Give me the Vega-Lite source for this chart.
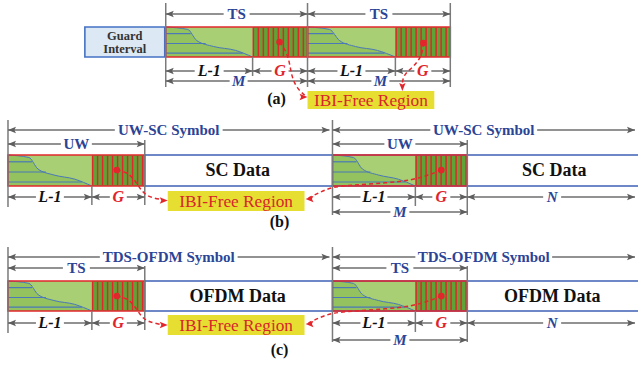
{
  "$schema": "https://vega.github.io/schema/vega-lite/v6.json",
  "width": 639,
  "height": 366,
  "padding": 0,
  "autosize": {"type": "fit", "contains": "padding"},
  "background": "white",
  "config": {"view": {"stroke": null}},
  "datasets": {
    "boxes": [
      {"x": 85, "x2": 165, "y": 27, "y2": 57, "k": "guard"},
      {"x": 166, "x2": 253, "y": 27, "y2": 57, "k": "light"},
      {"x": 253, "x2": 308, "y": 27, "y2": 57, "k": "hatch"},
      {"x": 308, "x2": 396, "y": 27, "y2": 57, "k": "light"},
      {"x": 396, "x2": 451, "y": 27, "y2": 57, "k": "hatch"},
      {"x": 8, "x2": 92, "y": 155, "y2": 186, "k": "light"},
      {"x": 92, "x2": 145, "y": 155, "y2": 186, "k": "hatch"},
      {"x": 333, "x2": 416, "y": 155, "y2": 186, "k": "light"},
      {"x": 416, "x2": 468, "y": 155, "y2": 186, "k": "hatch"},
      {"x": 8, "x2": 92, "y": 281, "y2": 311, "k": "light"},
      {"x": 92, "x2": 145, "y": 281, "y2": 311, "k": "hatch"},
      {"x": 333, "x2": 416, "y": 281, "y2": 311, "k": "light"},
      {"x": 416, "x2": 468, "y": 281, "y2": 311, "k": "hatch"},
      {"x": 308, "x2": 435, "y": 91, "y2": 109, "k": "ibi"},
      {"x": 168, "x2": 305, "y": 191, "y2": 211, "k": "ibi"},
      {"x": 168, "x2": 305, "y": 315, "y2": 335, "k": "ibi"}
    ],
    "curves": [
      {"b": "a1", "x": 166, "y": 27, "yb": 57}, {"b": "a1", "x": 188, "y": 29.4, "yb": 57}, {"b": "a1", "x": 197, "y": 40.5, "yb": 57}, {"b": "a1", "x": 214, "y": 46.5, "yb": 57}, {"b": "a1", "x": 236, "y": 50.4, "yb": 57}, {"b": "a1", "x": 253, "y": 57, "yb": 57},
      {"b": "a2", "x": 308, "y": 27, "yb": 57}, {"b": "a2", "x": 330, "y": 29.4, "yb": 57}, {"b": "a2", "x": 340, "y": 40.5, "yb": 57}, {"b": "a2", "x": 356, "y": 46.5, "yb": 57}, {"b": "a2", "x": 378, "y": 50.4, "yb": 57}, {"b": "a2", "x": 396, "y": 57, "yb": 57},
      {"b": "b1", "x": 8, "y": 155, "yb": 186}, {"b": "b1", "x": 29, "y": 157.5, "yb": 186}, {"b": "b1", "x": 38, "y": 169, "yb": 186}, {"b": "b1", "x": 54, "y": 175, "yb": 186}, {"b": "b1", "x": 75, "y": 179.2, "yb": 186}, {"b": "b1", "x": 92, "y": 186, "yb": 186},
      {"b": "b2", "x": 333, "y": 155, "yb": 186}, {"b": "b2", "x": 354, "y": 157.5, "yb": 186}, {"b": "b2", "x": 363, "y": 169, "yb": 186}, {"b": "b2", "x": 379, "y": 175, "yb": 186}, {"b": "b2", "x": 399, "y": 179.2, "yb": 186}, {"b": "b2", "x": 416, "y": 186, "yb": 186},
      {"b": "c1", "x": 8, "y": 281, "yb": 311}, {"b": "c1", "x": 29, "y": 283.4, "yb": 311}, {"b": "c1", "x": 38, "y": 294.5, "yb": 311}, {"b": "c1", "x": 54, "y": 300.5, "yb": 311}, {"b": "c1", "x": 75, "y": 304.4, "yb": 311}, {"b": "c1", "x": 92, "y": 311, "yb": 311},
      {"b": "c2", "x": 333, "y": 281, "yb": 311}, {"b": "c2", "x": 354, "y": 283.4, "yb": 311}, {"b": "c2", "x": 363, "y": 294.5, "yb": 311}, {"b": "c2", "x": 379, "y": 300.5, "yb": 311}, {"b": "c2", "x": 399, "y": 304.4, "yb": 311}, {"b": "c2", "x": 416, "y": 311, "yb": 311}
    ],
    "hlines": [
      {"x": 166, "x2": 191, "y": 33.6}, {"x": 166, "x2": 206, "y": 43.5}, {"x": 166, "x2": 243, "y": 53.1},
      {"x": 308, "x2": 334, "y": 33.6}, {"x": 308, "x2": 348, "y": 43.5}, {"x": 308, "x2": 385, "y": 53.1},
      {"x": 8, "x2": 32, "y": 161.8}, {"x": 8, "x2": 46, "y": 172}, {"x": 8, "x2": 82, "y": 182},
      {"x": 333, "x2": 357, "y": 161.8}, {"x": 333, "x2": 371, "y": 172}, {"x": 333, "x2": 406, "y": 182},
      {"x": 8, "x2": 32, "y": 287.6}, {"x": 8, "x2": 46, "y": 297.5}, {"x": 8, "x2": 82, "y": 307.1},
      {"x": 333, "x2": 357, "y": 287.6}, {"x": 333, "x2": 371, "y": 297.5}, {"x": 333, "x2": 406, "y": 307.1}
    ],
    "stripes": [
      {"x": 253, "x2": 308, "y": 42}, {"x": 396, "x2": 451, "y": 42},
      {"x": 92, "x2": 145, "y": 170.5}, {"x": 416, "x2": 468, "y": 170.5},
      {"x": 92, "x2": 145, "y": 296}, {"x": 416, "x2": 468, "y": 296}
    ],
    "datalines": [
      {"x": 145, "x2": 639, "y": 155}, {"x": 145, "x2": 639, "y": 186},
      {"x": 145, "x2": 639, "y": 281}, {"x": 145, "x2": 639, "y": 311}
    ],
    "frames": [
      {"x": 85, "x2": 165, "y": 27, "y2": 57, "k": "blue"},
      {"x": 166, "x2": 308, "y": 27, "y2": 57, "k": "red"},
      {"x": 308, "x2": 451, "y": 27, "y2": 57, "k": "red"},
      {"x": 8, "x2": 145, "y": 155, "y2": 186, "k": "red"},
      {"x": 333, "x2": 468, "y": 155, "y2": 186, "k": "red"},
      {"x": 8, "x2": 145, "y": 281, "y2": 311, "k": "red"},
      {"x": 333, "x2": 468, "y": 281, "y2": 311, "k": "red"}
    ],
    "ticks": [
      {"x": 166, "y": 3, "y2": 87}, {"x": 308, "y": 3, "y2": 87}, {"x": 451, "y": 3, "y2": 87},
      {"x": 253, "y": 57, "y2": 76}, {"x": 396, "y": 57, "y2": 76},
      {"x": 8, "y": 120, "y2": 207}, {"x": 145, "y": 140, "y2": 205}, {"x": 92, "y": 186, "y2": 205},
      {"x": 333, "y": 120, "y2": 215}, {"x": 416, "y": 186, "y2": 206}, {"x": 468, "y": 140, "y2": 215},
      {"x": 8, "y": 247, "y2": 333}, {"x": 145, "y": 266, "y2": 330}, {"x": 92, "y": 311, "y2": 330},
      {"x": 333, "y": 247, "y2": 342}, {"x": 416, "y": 311, "y2": 332}, {"x": 468, "y": 266, "y2": 342}
    ],
    "segs": [
      {"x": 166, "x2": 224, "y": 14}, {"x": 250, "x2": 308, "y": 14},
      {"x": 308, "x2": 366, "y": 14}, {"x": 393, "x2": 451, "y": 14},
      {"x": 166, "x2": 195, "y": 71}, {"x": 224, "x2": 253, "y": 71},
      {"x": 253, "x2": 272, "y": 71}, {"x": 289, "x2": 308, "y": 71},
      {"x": 308, "x2": 338, "y": 71}, {"x": 366, "x2": 396, "y": 71},
      {"x": 396, "x2": 415, "y": 71}, {"x": 432, "x2": 451, "y": 71},
      {"x": 166, "x2": 230, "y": 81}, {"x": 248, "x2": 308, "y": 81},
      {"x": 308, "x2": 372, "y": 81}, {"x": 390, "x2": 451, "y": 81},
      {"x": 8, "x2": 115, "y": 130}, {"x": 223, "x2": 330, "y": 130},
      {"x": 333, "x2": 431, "y": 130}, {"x": 538, "x2": 636, "y": 130},
      {"x": 8, "x2": 61, "y": 144}, {"x": 92, "x2": 145, "y": 144},
      {"x": 333, "x2": 385, "y": 144}, {"x": 416, "x2": 468, "y": 144},
      {"x": 8, "x2": 36, "y": 197}, {"x": 64, "x2": 92, "y": 197},
      {"x": 92, "x2": 110, "y": 197}, {"x": 127, "x2": 145, "y": 197},
      {"x": 333, "x2": 361, "y": 197}, {"x": 388, "x2": 416, "y": 197},
      {"x": 416, "x2": 433, "y": 197}, {"x": 451, "x2": 468, "y": 197},
      {"x": 468, "x2": 544, "y": 197}, {"x": 562, "x2": 636, "y": 197},
      {"x": 333, "x2": 391, "y": 212}, {"x": 410, "x2": 468, "y": 212},
      {"x": 8, "x2": 100, "y": 257}, {"x": 238, "x2": 330, "y": 257},
      {"x": 333, "x2": 416, "y": 257}, {"x": 553, "x2": 636, "y": 257},
      {"x": 8, "x2": 63, "y": 268}, {"x": 90, "x2": 145, "y": 268},
      {"x": 333, "x2": 387, "y": 268}, {"x": 414, "x2": 468, "y": 268},
      {"x": 8, "x2": 36, "y": 323}, {"x": 64, "x2": 92, "y": 323},
      {"x": 92, "x2": 110, "y": 323}, {"x": 127, "x2": 145, "y": 323},
      {"x": 333, "x2": 361, "y": 323}, {"x": 388, "x2": 416, "y": 323},
      {"x": 416, "x2": 433, "y": 323}, {"x": 451, "x2": 468, "y": 323},
      {"x": 468, "x2": 544, "y": 323}, {"x": 562, "x2": 636, "y": 323},
      {"x": 333, "x2": 391, "y": 340}, {"x": 410, "x2": 468, "y": 340}
    ],
    "arrows": [
      {"x": 166, "x2": 308, "xm": 237, "y": 14, "t": "TS", "s": "b"},
      {"x": 308, "x2": 451, "xm": 379.5, "y": 14, "t": "TS", "s": "b"},
      {"x": 166, "x2": 253, "xm": 209.5, "y": 71, "t": "L-1", "s": "l"},
      {"x": 253, "x2": 308, "xm": 280.5, "y": 71, "t": "G", "s": "g"},
      {"x": 308, "x2": 396, "xm": 352, "y": 71, "t": "L-1", "s": "l"},
      {"x": 396, "x2": 451, "xm": 423.5, "y": 71, "t": "G", "s": "g"},
      {"x": 166, "x2": 308, "xm": 239, "y": 81, "t": "M", "s": "m"},
      {"x": 308, "x2": 451, "xm": 381, "y": 81, "t": "M", "s": "m"},
      {"x": 8, "x2": 330, "xm": 169, "y": 130, "t": "UW-SC Symbol", "s": "b"},
      {"x": 333, "x2": 636, "xm": 484.5, "y": 130, "t": "UW-SC Symbol", "s": "b"},
      {"x": 8, "x2": 145, "xm": 76.5, "y": 144, "t": "UW", "s": "b"},
      {"x": 333, "x2": 468, "xm": 400.5, "y": 144, "t": "UW", "s": "b"},
      {"x": 8, "x2": 92, "xm": 50, "y": 197, "t": "L-1", "s": "l"},
      {"x": 92, "x2": 145, "xm": 118.5, "y": 197, "t": "G", "s": "g"},
      {"x": 333, "x2": 416, "xm": 374.5, "y": 197, "t": "L-1", "s": "l"},
      {"x": 416, "x2": 468, "xm": 442, "y": 197, "t": "G", "s": "g"},
      {"x": 468, "x2": 636, "xm": 553, "y": 197, "t": "N", "s": "m"},
      {"x": 333, "x2": 468, "xm": 400.5, "y": 212, "t": "M", "s": "m"},
      {"x": 8, "x2": 330, "xm": 169, "y": 257, "t": "TDS-OFDM Symbol", "s": "b"},
      {"x": 333, "x2": 636, "xm": 484.5, "y": 257, "t": "TDS-OFDM Symbol", "s": "b"},
      {"x": 8, "x2": 145, "xm": 76.5, "y": 268, "t": "TS", "s": "b"},
      {"x": 333, "x2": 468, "xm": 400.5, "y": 268, "t": "TS", "s": "b"},
      {"x": 8, "x2": 92, "xm": 50, "y": 323, "t": "L-1", "s": "l"},
      {"x": 92, "x2": 145, "xm": 118.5, "y": 323, "t": "G", "s": "g"},
      {"x": 333, "x2": 416, "xm": 374.5, "y": 323, "t": "L-1", "s": "l"},
      {"x": 416, "x2": 468, "xm": 442, "y": 323, "t": "G", "s": "g"},
      {"x": 468, "x2": 636, "xm": 553, "y": 323, "t": "N", "s": "m"},
      {"x": 333, "x2": 468, "xm": 400.5, "y": 340, "t": "M", "s": "m"}
    ],
    "redpaths": [
      {"p": "a1", "i": 0, "x": 280, "y": 42}, {"p": "a1", "i": 1, "x": 286, "y": 50}, {"p": "a1", "i": 2, "x": 290, "y": 62}, {"p": "a1", "i": 3, "x": 292, "y": 76}, {"p": "a1", "i": 4, "x": 297, "y": 88}, {"p": "a1", "i": 5, "x": 306, "y": 96},
      {"p": "a2", "i": 0, "x": 424, "y": 43}, {"p": "a2", "i": 1, "x": 423, "y": 55}, {"p": "a2", "i": 2, "x": 415, "y": 66}, {"p": "a2", "i": 3, "x": 406, "y": 73}, {"p": "a2", "i": 4, "x": 403, "y": 80}, {"p": "a2", "i": 5, "x": 403, "y": 88},
      {"p": "b1", "i": 0, "x": 117, "y": 170}, {"p": "b1", "i": 1, "x": 127, "y": 172}, {"p": "b1", "i": 2, "x": 135, "y": 180}, {"p": "b1", "i": 3, "x": 141, "y": 190}, {"p": "b1", "i": 4, "x": 148, "y": 197}, {"p": "b1", "i": 5, "x": 164, "y": 200},
      {"p": "b2", "i": 0, "x": 442, "y": 170}, {"p": "b2", "i": 1, "x": 430, "y": 175}, {"p": "b2", "i": 2, "x": 413, "y": 180}, {"p": "b2", "i": 3, "x": 387, "y": 183}, {"p": "b2", "i": 4, "x": 353, "y": 185}, {"p": "b2", "i": 5, "x": 332, "y": 187}, {"p": "b2", "i": 6, "x": 319, "y": 193}, {"p": "b2", "i": 7, "x": 309, "y": 198},
      {"p": "c1", "i": 0, "x": 117, "y": 296}, {"p": "c1", "i": 1, "x": 127, "y": 298}, {"p": "c1", "i": 2, "x": 135, "y": 306}, {"p": "c1", "i": 3, "x": 141, "y": 316}, {"p": "c1", "i": 4, "x": 148, "y": 322}, {"p": "c1", "i": 5, "x": 164, "y": 325},
      {"p": "c2", "i": 0, "x": 442, "y": 296}, {"p": "c2", "i": 1, "x": 430, "y": 301}, {"p": "c2", "i": 2, "x": 413, "y": 306}, {"p": "c2", "i": 3, "x": 387, "y": 309}, {"p": "c2", "i": 4, "x": 353, "y": 311}, {"p": "c2", "i": 5, "x": 332, "y": 313}, {"p": "c2", "i": 6, "x": 319, "y": 318}, {"p": "c2", "i": 7, "x": 309, "y": 323}
    ],
    "dots": [
      {"x": 280, "y": 42}, {"x": 424, "y": 43}, {"x": 117, "y": 170}, {"x": 442, "y": 170}, {"x": 117, "y": 296}, {"x": 442, "y": 296}
    ],
    "redheads": [
      {"x": 308, "y": 97, "d": "R"}, {"x": 403, "y": 91, "d": "D"},
      {"x": 168, "y": 200.5, "d": "R"}, {"x": 306, "y": 199, "d": "L"},
      {"x": 168, "y": 325, "d": "R"}, {"x": 306, "y": 324, "d": "L"}
    ],
    "texts": [
      {"x": 125, "y": 35.5, "t": "Guard", "k": "gi"},
      {"x": 125, "y": 48.5, "t": "Interval", "k": "gi"},
      {"x": 277, "y": 99, "t": "(a)", "k": "cap"},
      {"x": 280, "y": 222, "t": "(b)", "k": "cap"},
      {"x": 280, "y": 350, "t": "(c)", "k": "cap"},
      {"x": 238, "y": 171, "t": "SC Data", "k": "big"},
      {"x": 555, "y": 171, "t": "SC Data", "k": "big"},
      {"x": 238, "y": 297, "t": "OFDM Data", "k": "big"},
      {"x": 553, "y": 297, "t": "OFDM Data", "k": "big"},
      {"x": 371.5, "y": 100.5, "t": "IBI-Free Region", "k": "ibi"},
      {"x": 236.5, "y": 201.5, "t": "IBI-Free Region", "k": "ibi"},
      {"x": 236.5, "y": 325.5, "t": "IBI-Free Region", "k": "ibi"}
    ]
  },
  "encoding": {
    "x": {"field": "x", "type": "quantitative", "scale": {"domain": [0, 639], "nice": false, "zero": false}, "axis": null},
    "y": {"field": "y", "type": "quantitative", "scale": {"domain": [0, 366], "nice": false, "zero": false, "reverse": true}, "axis": null}
  },
  "layer": [
    {
      "data": {"name": "boxes"},
      "mark": {"type": "rect"},
      "encoding": {
        "x2": {"field": "x2"},
        "y2": {"field": "y2"},
        "color": {"field": "k", "type": "nominal", "legend": null, "scale": {"domain": ["guard", "light", "hatch", "ibi"], "range": ["#dce8f4", "#a9cf74", "#5fa336", "#e6df31"]}}
      }
    },
    {
      "data": {"name": "curves"},
      "mark": {"type": "area", "interpolate": "monotone", "color": "#93c25e", "opacity": 1},
      "encoding": {"y2": {"field": "yb"}, "detail": {"field": "b"}}
    },
    {
      "data": {"name": "curves"},
      "mark": {"type": "line", "interpolate": "monotone", "color": "#4a78b8", "strokeWidth": 1},
      "encoding": {"detail": {"field": "b"}}
    },
    {
      "data": {"name": "hlines"},
      "mark": {"type": "rule", "color": "#4a78b8", "strokeWidth": 1.2},
      "encoding": {"x2": {"field": "x2"}}
    },
    {
      "data": {"name": "stripes"},
      "mark": {"type": "rule", "color": "#e2272c", "strokeWidth": 29, "strokeDash": [1.5, 3.5], "strokeCap": "butt"},
      "encoding": {"x2": {"field": "x2"}}
    },
    {
      "data": {"name": "datalines"},
      "mark": {"type": "rule", "color": "#3d5fb5", "strokeWidth": 1.5},
      "encoding": {"x2": {"field": "x2"}}
    },
    {
      "data": {"name": "frames"},
      "mark": {"type": "rect", "fillOpacity": 0, "fill": "white", "strokeWidth": 1.6},
      "encoding": {
        "x2": {"field": "x2"},
        "y2": {"field": "y2"},
        "stroke": {"field": "k", "type": "nominal", "legend": null, "scale": {"domain": ["red", "blue"], "range": ["#e2272c", "#4472c4"]}}
      }
    },
    {
      "data": {"name": "ticks"},
      "mark": {"type": "rule", "color": "#7a7a7a", "strokeWidth": 1.5},
      "encoding": {"y2": {"field": "y2"}}
    },
    {
      "data": {"name": "segs"},
      "mark": {"type": "rule", "color": "#6e6e6e", "strokeWidth": 1.5},
      "encoding": {"x2": {"field": "x2"}}
    },
    {
      "data": {"name": "arrows"},
      "mark": {"type": "point", "filled": true, "opacity": 1, "color": "#5e5e5e", "size": 64, "shape": "M0,0L2,-0.8L1.6,0L2,0.8Z"},
      "encoding": {}
    },
    {
      "data": {"name": "arrows"},
      "mark": {"type": "point", "filled": true, "opacity": 1, "color": "#5e5e5e", "size": 64, "shape": "M0,0L-2,-0.8L-1.6,0L-2,0.8Z"},
      "encoding": {"x": {"field": "x2", "type": "quantitative", "scale": {"domain": [0, 639], "nice": false, "zero": false}, "axis": null}}
    },
    {
      "data": {"name": "arrows"},
      "transform": [{"filter": "datum.s == 'b'"}],
      "mark": {"type": "text", "font": "Liberation Serif", "fontWeight": "bold", "fontSize": 15, "color": "#2b4496", "baseline": "middle", "align": "center"},
      "encoding": {"x": {"field": "xm", "type": "quantitative", "scale": {"domain": [0, 639], "nice": false, "zero": false}, "axis": null}, "text": {"field": "t"}}
    },
    {
      "data": {"name": "arrows"},
      "transform": [{"filter": "datum.s == 'g'"}],
      "mark": {"type": "text", "font": "Liberation Serif", "fontWeight": "bold", "fontStyle": "italic", "fontSize": 16, "color": "#e0242b", "baseline": "middle", "align": "center"},
      "encoding": {"x": {"field": "xm", "type": "quantitative", "scale": {"domain": [0, 639], "nice": false, "zero": false}, "axis": null}, "text": {"field": "t"}}
    },
    {
      "data": {"name": "arrows"},
      "transform": [{"filter": "datum.s == 'm'"}],
      "mark": {"type": "text", "font": "Liberation Serif", "fontWeight": "bold", "fontStyle": "italic", "fontSize": 15, "color": "#2b4496", "baseline": "middle", "align": "center"},
      "encoding": {"x": {"field": "xm", "type": "quantitative", "scale": {"domain": [0, 639], "nice": false, "zero": false}, "axis": null}, "text": {"field": "t"}}
    },
    {
      "data": {"name": "arrows"},
      "transform": [{"filter": "datum.s == 'l'"}],
      "mark": {"type": "text", "font": "Liberation Serif", "fontWeight": "bold", "fontStyle": "italic", "fontSize": 16, "color": "#111111", "baseline": "middle", "align": "center"},
      "encoding": {"x": {"field": "xm", "type": "quantitative", "scale": {"domain": [0, 639], "nice": false, "zero": false}, "axis": null}, "text": {"field": "t"}}
    },
    {
      "data": {"name": "redpaths"},
      "mark": {"type": "line", "interpolate": "basis", "color": "#e2272c", "strokeWidth": 1.5, "strokeDash": [4, 3]},
      "encoding": {"detail": {"field": "p"}, "order": {"field": "i", "type": "quantitative"}}
    },
    {
      "data": {"name": "dots"},
      "mark": {"type": "point", "shape": "circle", "filled": true, "opacity": 1, "color": "#e2272c", "size": 45},
      "encoding": {}
    },
    {
      "data": {"name": "redheads"},
      "transform": [{"filter": "datum.d == 'R'"}],
      "mark": {"type": "point", "filled": true, "opacity": 1, "color": "#e2272c", "size": 64, "shape": "M0,0L-2,-0.8L-1.6,0L-2,0.8Z"},
      "encoding": {}
    },
    {
      "data": {"name": "redheads"},
      "transform": [{"filter": "datum.d == 'L'"}],
      "mark": {"type": "point", "filled": true, "opacity": 1, "color": "#e2272c", "size": 64, "shape": "M0,0L2,-0.8L1.6,0L2,0.8Z"},
      "encoding": {}
    },
    {
      "data": {"name": "redheads"},
      "transform": [{"filter": "datum.d == 'D'"}],
      "mark": {"type": "point", "filled": true, "opacity": 1, "color": "#e2272c", "size": 64, "shape": "M0,0L-0.8,-2L0,-1.6L0.8,-2Z"},
      "encoding": {}
    },
    {
      "data": {"name": "texts"},
      "transform": [{"filter": "datum.k == 'gi'"}],
      "mark": {"type": "text", "font": "Liberation Serif", "fontWeight": "bold", "fontSize": 12.5, "color": "#333333", "baseline": "middle", "align": "center"},
      "encoding": {"text": {"field": "t"}}
    },
    {
      "data": {"name": "texts"},
      "transform": [{"filter": "datum.k == 'cap'"}],
      "mark": {"type": "text", "font": "Liberation Serif", "fontWeight": "bold", "fontSize": 16, "color": "#111111", "baseline": "middle", "align": "center"},
      "encoding": {"text": {"field": "t"}}
    },
    {
      "data": {"name": "texts"},
      "transform": [{"filter": "datum.k == 'big'"}],
      "mark": {"type": "text", "font": "Liberation Serif", "fontWeight": "bold", "fontSize": 18, "color": "#111111", "baseline": "middle", "align": "center"},
      "encoding": {"text": {"field": "t"}}
    },
    {
      "data": {"name": "texts"},
      "transform": [{"filter": "datum.k == 'ibi'"}],
      "mark": {"type": "text", "font": "Liberation Serif", "fontSize": 17.3, "color": "#d8262c", "baseline": "middle", "align": "center"},
      "encoding": {"text": {"field": "t"}}
    }
  ]
}
